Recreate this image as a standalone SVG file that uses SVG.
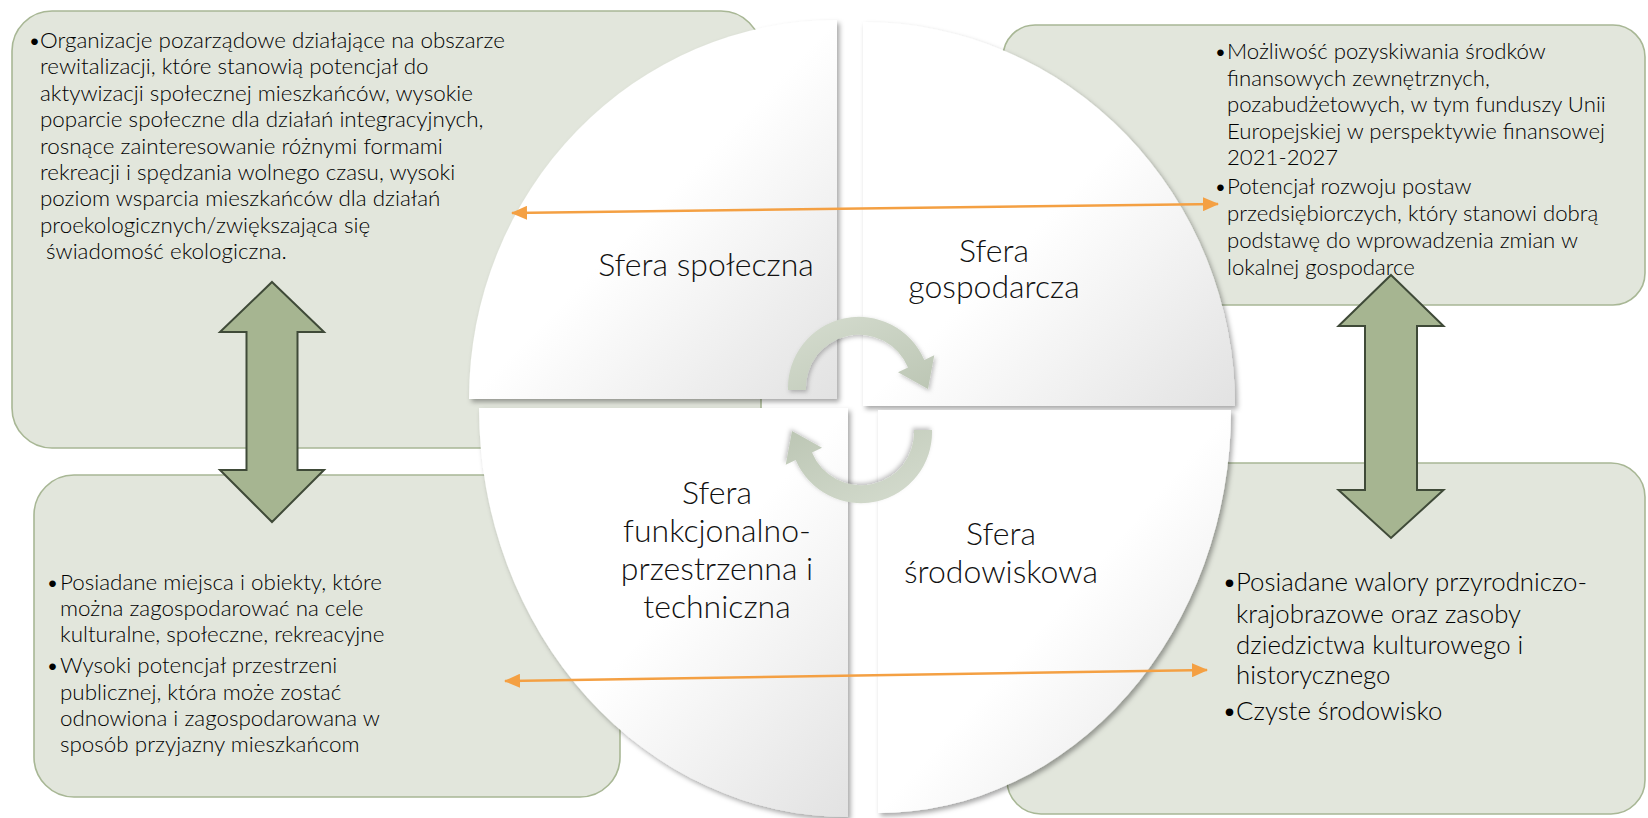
<svg xmlns="http://www.w3.org/2000/svg" width="1648" height="818" viewBox="0 0 1648 818">
  <style>
    .box { fill: #e2e6dc; stroke: #a8b795; stroke-width: 1.6; }
    .quad { fill: url(#qgrad); filter: url(#qshadow); }
    .txt { font-family: Lato, "Liberation Sans", sans-serif; font-weight: 300; fill: #000; }
    .tl { font-size: 22.4px; }
    .tr { font-size: 22.2px; }
    .bl { font-size: 22.4px; }
    .br { font-size: 25.8px; }
    .lbl { font-family: Lato, "Liberation Sans", sans-serif; font-weight: 300; font-size: 32px; fill: #111; text-anchor: middle; }
    .dbl { fill: #a6b591; stroke: #3f4a38; stroke-width: 2; stroke-linejoin: miter; }
    .circ { fill: url(#cgrad); filter: url(#cshadow); }
    .orange { stroke: #f4a043; stroke-width: 2.5; fill: none; marker-start: url(#oa); marker-end: url(#oa); }
  </style>
  <defs>
    <linearGradient id="qgrad" x1="0" y1="0" x2="1" y2="1">
      <stop offset="0" stop-color="#ffffff"/>
      <stop offset="0.5" stop-color="#ffffff"/>
      <stop offset="1" stop-color="#e2e2e2"/>
    </linearGradient>
    <linearGradient id="cgrad" x1="0" y1="0" x2="1" y2="1">
      <stop offset="0" stop-color="#d6ddd0"/>
      <stop offset="1" stop-color="#bcc6b4"/>
    </linearGradient>
    <filter id="qshadow" x="-5%" y="-5%" width="112%" height="112%">
      <feDropShadow dx="2.5" dy="3" stdDeviation="2.5" flood-color="#000" flood-opacity="0.35"/>
    </filter>
    <filter id="cshadow" x="-10%" y="-10%" width="125%" height="125%">
      <feDropShadow dx="1.5" dy="2" stdDeviation="2" flood-color="#000" flood-opacity="0.25"/>
    </filter>
    <marker id="oa" viewBox="0 0 16 14" refX="15" refY="7" markerWidth="16" markerHeight="14" markerUnits="userSpaceOnUse" orient="auto-start-reverse">
      <path d="M0,0 L16,7 L0,14 z" fill="#f4a043"/>
    </marker>
  </defs>

  <rect width="1648" height="818" fill="#ffffff"/>

  <!-- Boxes -->
  <g id="box-spoleczna">
    <rect class="box" x="12" y="11" width="749" height="437" rx="40" ry="40"/>
    <g class="txt tl">
      <text y="48"><tspan x="28">•</tspan><tspan x="40">Organizacje pozarządowe działające na obszarze</tspan></text>
      <text x="40" y="74.4">rewitalizacji, które stanowią potencjał do</text>
      <text x="40" y="100.8">aktywizacji społecznej mieszkańców, wysokie</text>
      <text x="40" y="127.2">poparcie społeczne dla działań integracyjnych,</text>
      <text x="40" y="153.6">rosnące zainteresowanie różnymi formami</text>
      <text x="40" y="180">rekreacji i spędzania wolnego czasu, wysoki</text>
      <text x="40" y="206.4">poziom wsparcia mieszkańców dla działań</text>
      <text x="40" y="232.8">proekologicznych/zwiększająca się</text>
      <text x="46" y="259.2">świadomość ekologiczna.</text>
    </g>
  </g>

  <g id="box-gospodarcza">
    <rect class="box" x="1003" y="25" width="642" height="280" rx="32" ry="32"/>
    <g class="txt tr">
      <text y="59"><tspan x="1214">•</tspan><tspan x="1227">Możliwość pozyskiwania środków</tspan></text>
      <text x="1227" y="85.5">finansowych zewnętrznych,</text>
      <text x="1227" y="112">pozabudżetowych, w tym funduszy Unii</text>
      <text x="1227" y="138.5">Europejskiej w perspektywie finansowej</text>
      <text x="1227" y="165">2021-2027</text>
      <text y="194"><tspan x="1214">•</tspan><tspan x="1227">Potencjał rozwoju postaw</tspan></text>
      <text x="1227" y="221">przedsiębiorczych, który  stanowi dobrą</text>
      <text x="1227" y="248">podstawę do wprowadzenia zmian w</text>
      <text x="1227" y="275">lokalnej gospodarce</text>
    </g>
  </g>

  <g id="box-funkcjonalna">
    <rect class="box" x="34" y="475" width="586" height="322" rx="40" ry="40"/>
    <g class="txt bl">
      <text y="590"><tspan x="46">•</tspan><tspan x="60">Posiadane miejsca i obiekty, które</tspan></text>
      <text x="60" y="616">można zagospodarować na cele</text>
      <text x="60" y="642">kulturalne, społeczne, rekreacyjne</text>
      <text y="673"><tspan x="46">•</tspan><tspan x="60">Wysoki potencjał przestrzeni</tspan></text>
      <text x="60" y="700">publicznej, która może zostać</text>
      <text x="60" y="726">odnowiona i zagospodarowana w</text>
      <text x="60" y="752">sposób przyjazny mieszkańcom</text>
    </g>
  </g>

  <g id="box-srodowiskowa">
    <rect class="box" x="1007" y="463" width="638" height="351" rx="34" ry="34"/>
    <g class="txt br">
      <text y="591"><tspan x="1222">•</tspan><tspan x="1236">Posiadane walory przyrodniczo-</tspan></text>
      <text x="1236" y="623">krajobrazowe oraz zasoby</text>
      <text x="1236" y="654">dziedzictwa kulturowego i</text>
      <text x="1236" y="684">historycznego</text>
      <text y="720"><tspan x="1222">•</tspan><tspan x="1236">Czyste środowisko</tspan></text>
    </g>
  </g>

  <!-- Circle quadrants -->
  <g id="quad-spoleczna">
    <path class="quad" d="M837,399 H469 A368,379 0 0 1 837,20 Z"/>
    <text class="lbl" x="706" y="276">Sfera społeczna</text>
  </g>
  <g id="quad-gospodarcza">
    <path class="quad" d="M863,406 V22 A372,384 0 0 1 1235,406 Z"/>
    <text class="lbl" x="994" y="262">Sfera</text>
    <text class="lbl" x="994" y="298">gospodarcza</text>
  </g>
  <g id="quad-funkcjonalna">
    <path class="quad" d="M848,408 H479 A369,409 0 0 0 848,817 Z"/>
    <text class="lbl" x="717" y="504">Sfera</text>
    <text class="lbl" x="717" y="542">funkcjonalno-</text>
    <text class="lbl" x="717" y="580">przestrzenna i</text>
    <text class="lbl" x="717" y="618">techniczna</text>
  </g>
  <g id="quad-srodowiskowa">
    <path class="quad" d="M878,410 H1231 A353,403 0 0 1 878,813 Z"/>
    <text class="lbl" x="1001" y="545">Sfera</text>
    <text class="lbl" x="1001" y="583">środowiskowa</text>
  </g>

  <!-- Connectors -->
  <g id="connectors">
    <path class="circ" d="M788,390 A71,71 0 0 1 924.3,360 L934.3,355.3 L928,389 L898,372.2 L908,367.6 A53,53 0 0 0 806,390 Z"/>
    <path class="circ" transform="rotate(180 860 410)" d="M788,390 A71,71 0 0 1 924.3,360 L934.3,355.3 L928,389 L898,372.2 L908,367.6 A53,53 0 0 0 806,390 Z"/>
    <polygon class="dbl" points="272,282 324,332 297.5,332 297.5,470 324,470 272,522 220,470 246.5,470 246.5,332 220,332"/>
    <polygon class="dbl" points="1391,275 1443.5,326 1417,326 1417,490 1443.5,490 1391,538 1338.5,490 1365,490 1365,326 1338.5,326"/>
    <line class="orange" x1="512" y1="213" x2="1218" y2="204"/>
    <line class="orange" x1="505" y1="681" x2="1207" y2="670"/>
  </g>
</svg>
